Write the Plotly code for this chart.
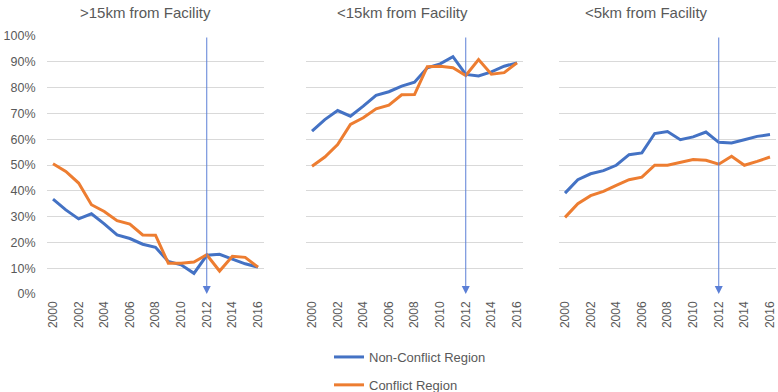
import plotly.graph_objects as go

years = list(range(2000, 2017))
titles = [">15km from Facility", "<15km from Facility", "<5km from Facility"]

far_nonconflict = [36.8, 32.6, 29.1, 31.1, 27.2, 22.9, 21.5, 19.3, 18.1, 12.6, 11.3, 8.0, 15.0, 15.4, 13.5, 11.7, 10.4]
far_conflict = [50.5, 47.5, 43.0, 34.6, 32.0, 28.4, 27.1, 22.9, 22.8, 11.9, 11.9, 12.4, 15.2, 8.9, 14.6, 14.2, 10.4]

mid_nonconflict = [63.1, 67.6, 71.1, 68.9, 72.8, 77.0, 78.4, 80.6, 82.1, 87.7, 89.2, 92.0, 85.1, 84.5, 86.1, 88.3, 89.6]
mid_conflict = [49.5, 53.1, 57.9, 65.7, 68.3, 71.8, 73.2, 77.2, 77.3, 88.1, 88.3, 87.7, 84.7, 90.9, 85.2, 85.8, 89.6]

near_nonconflict = [39.1, 44.3, 46.6, 47.8, 49.9, 54.0, 54.7, 62.2, 63.0, 59.8, 60.9, 62.8, 58.8, 58.5, 59.8, 61.1, 61.8]
near_conflict = [29.7, 35.0, 38.1, 39.8, 42.1, 44.3, 45.3, 49.9, 49.9, 51.0, 52.1, 51.8, 50.3, 53.4, 49.9, 51.4, 53.1]

event_year = 2012
series_names = ["Non-Conflict Region", "Conflict Region"]
y_ticks = [0, 10, 20, 30, 40, 50, 60, 70, 80, 90, 100]
x_ticks = list(range(2000, 2017, 2))

BLUE = "#4472C4"
ORANGE = "#ED7D31"
GREY = "#595959"
FONT = "Liberation Sans"

panels = [
    (far_nonconflict, far_conflict),
    (mid_nonconflict, mid_conflict),
    (near_nonconflict, near_conflict),
]

W, H = 778, 392
x_domains_px = [(46.6, 264.4), (305.6, 523.4), (558.6, 776.4)]
title_centers_px = [145, 403, 646]
y_top_px, y_bot_px = 36, 294

fig = go.Figure()
for i, (nc, c) in enumerate(panels):
    xa = "x" if i == 0 else f"x{i+1}"
    ya = "y" if i == 0 else f"y{i+1}"
    fig.add_trace(go.Scatter(x=years, y=nc, mode="lines", name=series_names[0],
                             line=dict(color=BLUE, width=3), xaxis=xa, yaxis=ya,
                             showlegend=(i == 0), legendgroup="nc"))
    fig.add_trace(go.Scatter(x=years, y=c, mode="lines", name=series_names[1],
                             line=dict(color=ORANGE, width=3), xaxis=xa, yaxis=ya,
                             showlegend=(i == 0), legendgroup="c"))
    fig.add_annotation(x=event_year, y=0, ax=event_year, ay=100,
                       xref=xa, yref=ya, axref=xa, ayref=ya,
                       showarrow=True, arrowhead=2, arrowsize=1.6, arrowwidth=1,
                       arrowcolor="#5B7FD6", text="")
    x0, x1 = x_domains_px[i]
    xd = [x0 / W, x1 / W]
    yd = [1 - y_bot_px / H, 1 - y_top_px / H]
    xkey = "xaxis" if i == 0 else f"xaxis{i+1}"
    ykey = "yaxis" if i == 0 else f"yaxis{i+1}"
    fig.update_layout(**{
        xkey: dict(domain=xd, range=[1999.5, 2016.5], tickvals=x_ticks,
                   ticktext=[str(t) for t in x_ticks], tickangle=-90,
                   showgrid=False, zeroline=False, showline=False, automargin=False,
                   ticklabelstandoff=4,
                   tickfont=dict(size=12, color=GREY, family=FONT), anchor=ya),
        ykey: dict(domain=yd, range=[0, 100], tickvals=y_ticks,
                   ticktext=[f"{t}%" for t in y_ticks], showticklabels=(i == 0),
                   gridcolor="#D9D9D9", gridwidth=1, zeroline=False, showline=False,
                   automargin=False, ticklabelstandoff=10,
                   tickfont=dict(size=12.5, color=GREY, family=FONT), anchor=xa),
    })
    fig.add_annotation(x=title_centers_px[i] / W, y=1 - 12 / H, xref="paper", yref="paper",
                       xanchor="center", yanchor="middle",
                       text=titles[i], showarrow=False,
                       font=dict(size=15, color=GREY, family=FONT))

fig.update_layout(
    width=W, height=H,
    margin=dict(l=0, r=0, t=0, b=0, autoexpand=False),
    paper_bgcolor="white", plot_bgcolor="white",
    legend=dict(x=329 / W, y=1 - 342 / H, xanchor="left", yanchor="top",
                orientation="v", font=dict(size=13, color=GREY, family=FONT),
                itemwidth=30, tracegroupgap=8),
    font=dict(family=FONT, color=GREY),
)

fig.write_html("out.html", config={"displayModeBar": False},
               post_script="document.body.style.margin='0';document.body.style.overflow='hidden';")
